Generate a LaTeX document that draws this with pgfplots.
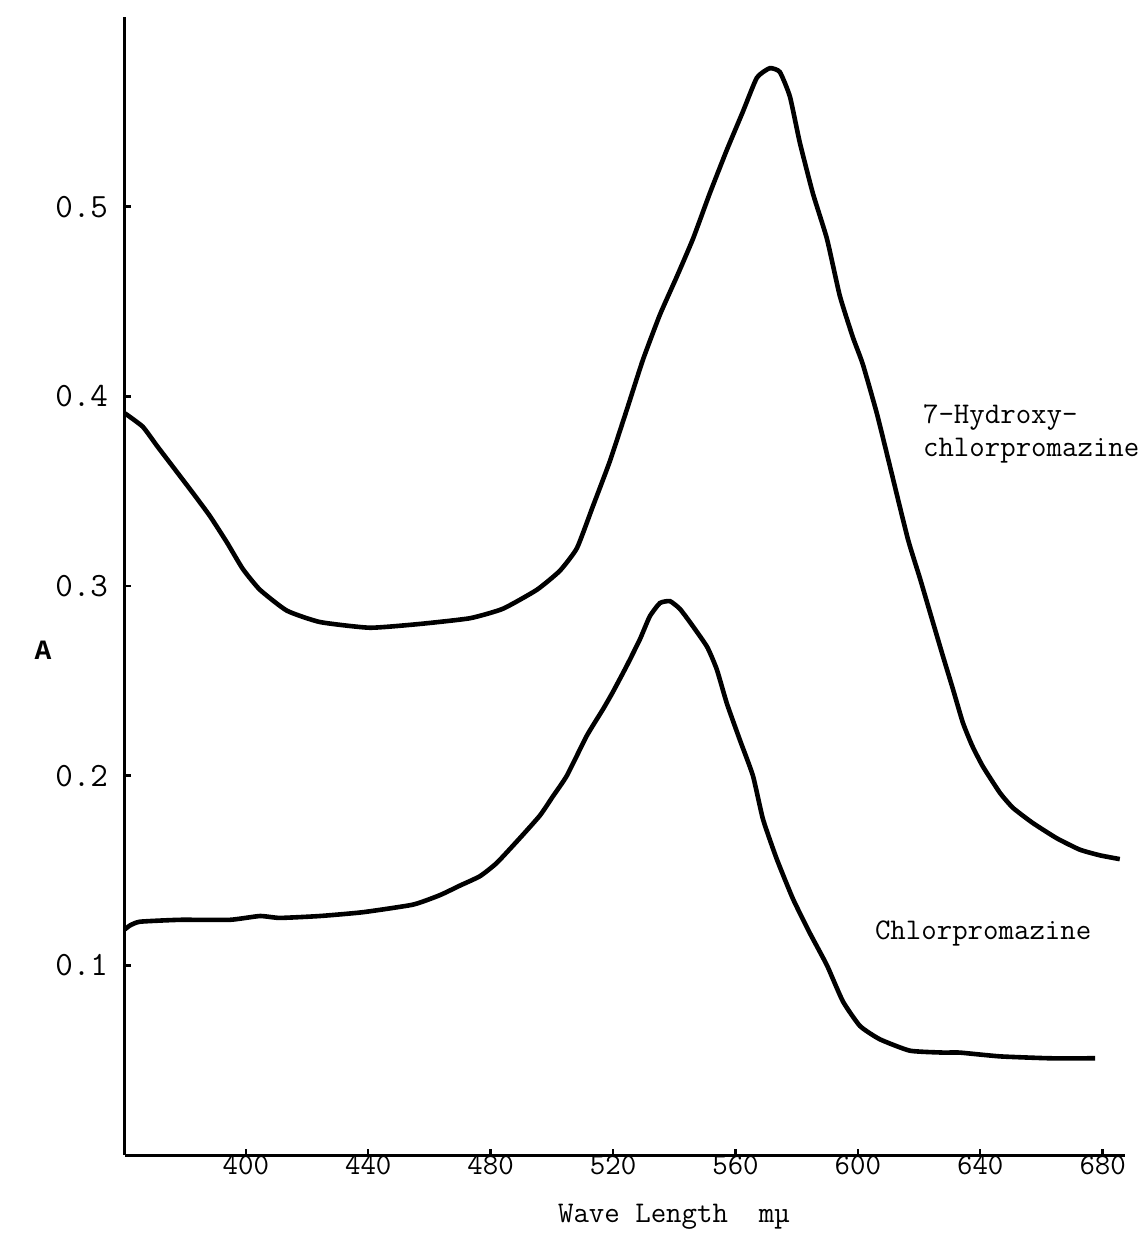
\documentclass[border=0pt]{standalone}
\usepackage{fontspec}
\usepackage{pgfplots}
\pgfplotsset{compat=1.18}
\newfontfamily\boldmono{Liberation Mono}
\newcommand{\tw}[1]{\ttfamily\addfontfeatures{FakeBold=0.6}\fontsize{#1}{1.1\dimexpr#1pt\relax}\selectfont}

\pgfplotstableread{
nm A
360.5 0.391
366.3 0.384
370.9 0.374
376.1 0.363
382.7 0.349
388.2 0.337
393.8 0.323
399.0 0.309
404.6 0.298
413.4 0.287
424.2 0.281
440.5 0.278
456.9 0.280
473.2 0.283
484.0 0.288
495.1 0.298
502.6 0.308
508.2 0.320
513.4 0.342
519.0 0.366
524.5 0.393
529.7 0.419
535.3 0.443
540.8 0.463
546.1 0.483
551.6 0.507
557.2 0.530
562.4 0.550
567.0 0.568
571.2 0.573
574.5 0.571
577.8 0.558
581.0 0.534
585.3 0.507
589.9 0.483
594.1 0.453
598.4 0.431
601.6 0.417
606.2 0.391
610.5 0.363
616.3 0.325
620.3 0.304
624.5 0.281
627.8 0.263
631.0 0.246
634.3 0.228
637.3 0.216
640.8 0.205
646.4 0.191
650.7 0.183
657.2 0.175
665.0 0.167
672.5 0.161
679.1 0.158
685.6 0.156
}\hydroxy

\pgfplotstableread{
nm A
360.5 0.119
362.1 0.121
365.4 0.123
378.4 0.124
394.8 0.124
404.6 0.126
411.1 0.125
424.2 0.126
438.2 0.128
454.6 0.132
463.4 0.137
469.9 0.142
476.5 0.147
482.0 0.154
489.5 0.167
496.1 0.179
500.3 0.189
504.9 0.200
511.4 0.221
516.7 0.235
519.9 0.244
524.5 0.258
528.8 0.272
532.0 0.284
535.3 0.291
538.6 0.292
541.8 0.288
545.1 0.281
550.7 0.268
553.9 0.256
557.2 0.238
561.4 0.219
565.7 0.200
569.0 0.177
573.5 0.156
578.8 0.135
584.3 0.117
589.9 0.100
595.1 0.081
600.7 0.068
607.2 0.061
617.0 0.055
627.8 0.054
633.3 0.054
646.4 0.052
662.7 0.051
677.5 0.051
}\cpz

\begin{document}
\begin{tikzpicture}
\useasboundingbox (-62.5pt,-45.5pt) rectangle (509pt,577.5pt);
\begin{axis}[
    at={(0,0)}, anchor=south west,
    scale only axis,
    width=500pt, height=569pt,
    xmin=360.5, xmax=687.3,
    ymin=0, ymax=0.6,
    axis lines=left,
    axis line style={-, line width=1.5pt},
    xtick={400,440,...,680},
    ytick={0.1,0.2,0.3,0.4,0.5},
    yticklabels={0.1,0.2,0.3,0.4,0.5},
    tick align=inside,
    major tick length=3pt,
    tick style={line width=1.2pt, black},
    /pgf/number format/assume math mode=true,
    xticklabel style={font=\tw{15}, yshift=3pt},
    yticklabel style={font=\tw{17}, xshift=-5pt},
    clip=false,
]
\addplot[black, line width=2.3pt, smooth, tension=0.3] table[x=nm, y=A] {\hydroxy};
\addplot[black, line width=2.3pt, smooth, tension=0.3] table[x=nm, y=A] {\cpz};

\node[anchor=west, align=left, font=\tw{15}]
    at (axis cs:619,0.380) {7-Hydroxy-\\chlorpromazine};
\node[anchor=west, font=\tw{15}]
    at (axis cs:603.3,0.117) {Chlorpromazine};
\node[font=\tw{15}]
    at (axis cs:539.9,-0.0326) {Wave Length~~mµ};
\node[font=\boldmono\bfseries\fontsize{14}{16}\selectfont]
    at (axis cs:333.7,0.266) {A};
\end{axis}
\end{tikzpicture}
\end{document}
